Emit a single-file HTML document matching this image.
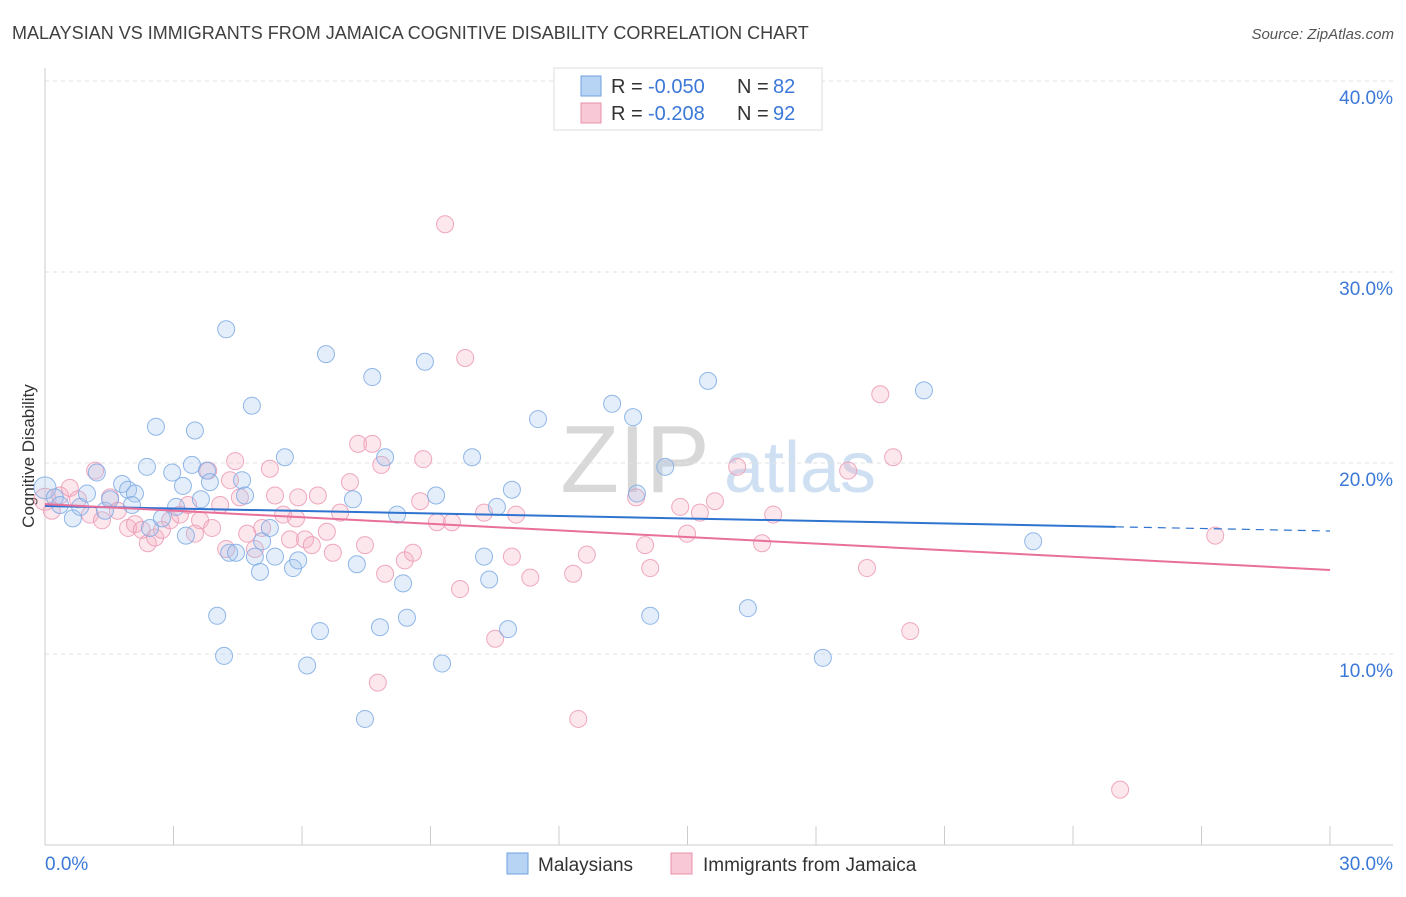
<!DOCTYPE html>
<html><head><meta charset="utf-8">
<style>
body{margin:0;background:#fff;font-family:"Liberation Sans",sans-serif;}
svg text{font-family:"Liberation Sans",sans-serif;}
</style></head>
<body>
<svg id="chart" width="1406" height="892" xmlns="http://www.w3.org/2000/svg">
<text x="12" y="39" font-size="18" fill="#404040">MALAYSIAN VS IMMIGRANTS FROM JAMAICA COGNITIVE DISABILITY CORRELATION CHART</text>
<text x="1394" y="39" font-size="15" fill="#555" text-anchor="end" font-style="italic">Source: ZipAtlas.com</text>
<text transform="translate(34,456) rotate(-90)" font-size="17" fill="#333" text-anchor="middle">Cognitive Disability</text>
<g>
<text x="635" y="492" font-size="96" fill="#d8d8d8" text-anchor="middle" font-family="Liberation Serif">ZIP</text>
<text x="800" y="492" font-size="72" fill="#cfe0f3" text-anchor="middle">atlas</text>
</g>
<g id="grid"></g>
<g id="axes"></g>
<g id="marks"></g>
<g>
<rect x="554" y="68" width="268" height="62" fill="#fff" stroke="#ddd"/>
<rect x="581" y="76" width="20" height="20" fill="#b8d4f5" stroke="#6fa0e0"/>
<rect x="581" y="103" width="20" height="20" fill="#f9c8d6" stroke="#e890a8"/>
<text x="611" y="93" font-size="20" fill="#333">R =</text>
<text x="648" y="93" font-size="20" fill="#3b78d8">-0.050</text>
<text x="737" y="93" font-size="20" fill="#333">N =</text>
<text x="773" y="93" font-size="20" fill="#3b78d8">82</text>
<text x="611" y="120" font-size="20" fill="#333">R =</text>
<text x="648" y="120" font-size="20" fill="#3b78d8">-0.208</text>
<text x="737" y="120" font-size="20" fill="#333">N =</text>
<text x="773" y="120" font-size="20" fill="#3b78d8">92</text>
</g>
<g>
<rect x="507" y="853" width="21" height="21" fill="#b8d4f5" stroke="#6fa0e0"/>
<text x="538" y="871" font-size="19" fill="#333">Malaysians</text>
<rect x="671" y="853" width="21" height="21" fill="#f9c8d6" stroke="#e890a8"/>
<text x="703" y="871" font-size="19" fill="#333">Immigrants from Jamaica</text>
</g>
</svg>
<script>
const yTicks=[10,20,30,40];
const yTickLabels=["10.0%","20.0%","30.0%","40.0%"];
const xTickLabels=["0.0%","30.0%"];
const blueX=[0,0.23,0.35,0.65,0.82,0.98,1.21,1.4,1.52,1.8,1.94,2.1,2.03,2.38,2.59,2.45,2.73,2.97,3.22,3.29,3.06,3.43,3.5,3.64,3.78,3.85,4.02,4.18,4.23,4.3,4.46,4.6,4.67,4.83,4.9,5.02,5.07,5.25,5.37,5.6,5.79,5.91,6.12,6.42,6.56,7.19,7.28,7.47,7.64,7.82,7.94,8.22,8.36,8.45,8.87,9.13,9.27,9.97,10.25,10.37,10.55,10.81,10.9,11.51,13.24,13.73,13.82,14.13,14.48,15.48,16.41,18.16,20.52,23.07];
const blueY=[18.7,18.2,17.8,17.1,17.7,18.4,19.5,17.5,18.1,18.9,18.6,18.4,17.8,19.8,21.9,16.6,17.1,19.5,18.8,16.2,17.7,19.9,21.7,18.1,19.6,19.0,12.0,9.9,27.0,15.3,15.3,19.1,18.3,23.0,15.1,14.3,15.9,16.6,15.1,20.3,14.5,14.9,9.4,11.2,25.7,18.1,14.7,6.6,24.5,11.4,20.3,17.3,13.7,11.9,25.3,18.3,9.5,20.3,15.1,13.9,17.7,11.3,18.6,22.3,23.1,22.4,18.4,12.0,19.8,24.3,12.4,9.8,23.8,15.9];
const pinkX=[0,0.16,0.35,0.58,0.77,1.05,1.17,1.33,1.52,1.7,1.94,2.1,2.26,2.4,2.57,2.73,2.92,3.15,3.34,3.5,3.62,3.81,3.9,4.09,4.23,4.32,4.44,4.55,4.72,4.9,5.07,5.25,5.37,5.56,5.72,5.86,5.91,6.07,6.23,6.37,6.58,6.72,6.89,7.12,7.31,7.47,7.64,7.85,7.94,7.77,8.4,8.59,8.76,8.83,9.15,9.34,9.5,9.69,9.81,10.25,10.51,10.9,11.0,11.33,12.33,12.45,12.65,13.8,14.01,14.13,14.83,14.99,15.29,15.64,16.16,16.74,17.0,18.75,19.19,19.5,19.8,20.2,25.1,27.32];
const pinkY=[18.1,17.5,18.3,18.7,18.1,17.3,19.6,17.0,18.2,17.5,16.6,16.8,16.5,15.8,16.1,16.5,17.0,17.3,17.8,16.3,17.0,19.6,16.6,17.8,15.5,19.1,20.1,18.2,16.3,15.5,16.6,19.7,18.3,17.3,16.0,17.1,18.2,16.0,15.7,18.3,16.4,15.3,17.4,19.0,21.0,15.7,21.0,19.9,14.2,8.5,14.9,15.3,18.0,20.2,16.9,32.5,16.9,13.4,25.5,17.4,10.8,15.1,17.3,14.0,14.2,6.6,15.2,18.2,15.7,14.5,17.7,16.3,17.4,18.0,19.8,15.8,17.3,19.6,14.5,23.6,20.3,11.2,2.9,16.2];
const blueTrend=[17.75,16.44];
const pinkTrend=[17.85,14.4];
const X0=45,X1=1330,Y0=845,PY=19.1;
function sx(v){return X0+v*(X1-X0)/30;}
function sy(v){return Y0-v*PY;}
const NS="http://www.w3.org/2000/svg";
function mk(tag,attrs,parent){const e=document.createElementNS(NS,tag);for(const k in attrs)e.setAttribute(k,attrs[k]);parent.appendChild(e);return e;}
const grid=document.getElementById('grid'),axes=document.getElementById('axes'),marks=document.getElementById('marks');
yTicks.forEach((t,i)=>{
 const l=mk('line',{x1:X0,x2:1393,y1:sy(t),y2:sy(t),stroke:'#e2e2e2','stroke-dasharray':'4,4'},grid);
 
 
 const tx=mk('text',{x:1393,y:sy(t)+23,'font-size':19,fill:'#3b78d8','text-anchor':'end'},axes);
 tx.textContent=yTickLabels[i];
 
 
});
let a=mk('line',{x1:X0,x2:X0,y1:68,y2:Y0,stroke:'#ccc'},axes);


a=mk('line',{x1:X0,x2:1393,y1:Y0,y2:Y0,stroke:'#ccc'},axes);


for(let i=0;i<=10;i++){
 const t=mk('line',{x1:sx(i*3),x2:sx(i*3),y1:826,y2:Y0,stroke:'#ccc'},axes);
 
 
}
[[0,'start',45],[1,'end',1393]].forEach(([i,anc,x])=>{
 const tx=mk('text',{x:x,y:870,'font-size':19,fill:'#3b78d8','text-anchor':anc},axes);
 tx.textContent=xTickLabels[i];
 
 
});
function pts(xs,ys,fill,stroke,name){
 xs.forEach((x,i)=>{
  const c=mk('circle',{cx:sx(x),cy:sy(ys[i]),r:i==0?11:8.5,fill:fill,'fill-opacity':0.3,stroke:stroke,'stroke-width':1,'stroke-opacity':0.85},marks);
  
  
 });
}
pts(pinkX,pinkY,'#f5b0c4','#ec9ab4','jamaica-point');
pts(blueX,blueY,'#a6c6f0','#7eaae4','malaysian-point');
function trendAt(tr,x){return tr[0]+(tr[1]-tr[0])*x/30;}
let t=mk('line',{x1:sx(0),y1:sy(trendAt(blueTrend,0)),x2:sx(25),y2:sy(trendAt(blueTrend,25)),stroke:'#2f74d0','stroke-width':2},marks);


t=mk('line',{x1:sx(25),y1:sy(trendAt(blueTrend,25)),x2:sx(30),y2:sy(trendAt(blueTrend,30)),stroke:'#2f74d0','stroke-width':1.2,'stroke-dasharray':'8,6'},marks);


t=mk('line',{x1:sx(0),y1:sy(trendAt(pinkTrend,0)),x2:sx(30),y2:sy(trendAt(pinkTrend,30)),stroke:'#e8709a','stroke-width':2},marks);


</script>
</body></html>
